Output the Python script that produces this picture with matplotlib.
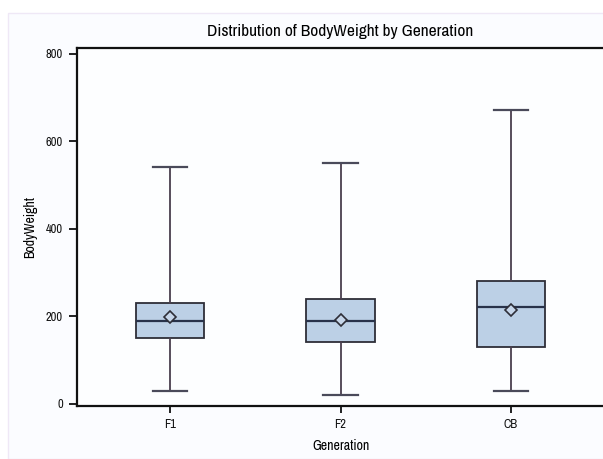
import matplotlib
matplotlib.use("Agg")
import matplotlib.pyplot as plt
from matplotlib.patches import Rectangle

categories = ["F1", "F2", "CB"]
whisker_low = [30, 20, 30]
q1 = [150, 141, 129]
median = [190, 189, 220]
q3 = [230, 240, 280]
whisker_high = [541, 550, 671]
means = [198, 192, 214]

yticks = [0, 200, 400, 600, 800]

fam = ["Archivo Narrow", "PT Sans Narrow", "Liberation Sans", "DejaVu Sans"]
plt.rcParams["font.family"] = fam

fig = plt.figure(figsize=(6.03, 4.59), dpi=100)
fig.patch.set_facecolor("white")
fig.patches.append(Rectangle((8 / 603, 0), 1, 1 - 13 / 459, transform=fig.transFigure,
                             facecolor="#fbfcff", edgecolor="#efe8f6", linewidth=1.0, zorder=-10))

ax = fig.add_axes([77 / 603, 1 - 406 / 459, 527 / 603, (406 - 48.3) / 459])
ax.set_facecolor("#fdfeff")

stats = []
for i, c in enumerate(categories):
    stats.append(dict(label=c, whislo=whisker_low[i], q1=q1[i], med=median[i],
                      q3=q3[i], whishi=whisker_high[i], mean=means[i], fliers=[]))

ax.bxp(stats, positions=[1, 2, 3], widths=0.4, showmeans=True, patch_artist=True,
       showfliers=False,
       boxprops=dict(facecolor="#bcd0e6", edgecolor="#2e2e38", linewidth=1.3),
       medianprops=dict(color="#28324a", linewidth=1.6),
       whiskerprops=dict(color="#4a3f4e", linewidth=1.3),
       capprops=dict(color="#4a4a5a", linewidth=1.6),
       capwidths=0.2,
       meanprops=dict(marker="D", markersize=6.5, markerfacecolor="#c6d6ea",
                      markeredgecolor="#2e2e38", markeredgewidth=1.2))

ax.set_xlim(0.455, 3.545)
ax.set_ylim(-5, 812)
ax.set_yticks(yticks)
ax.set_xticks([1, 2, 3])
ax.set_xticklabels(categories)

for s in ["left", "bottom", "top", "right"]:
    ax.spines[s].set_linewidth(1.6)
    ax.spines[s].set_color("#111111")

ax.tick_params(axis="both", direction="out", length=6, width=1.3, colors="#111111",
               labelsize=9, pad=4)
ax.tick_params(axis="x", length=5, pad=4)

ax.set_xlabel("Generation", fontsize=10, labelpad=7)
ax.set_ylabel("BodyWeight", fontsize=10, labelpad=6)
ax.set_title("Distribution of BodyWeight by Generation", fontsize=12.5, pad=9)

fig.savefig("out.png", dpi=100)
